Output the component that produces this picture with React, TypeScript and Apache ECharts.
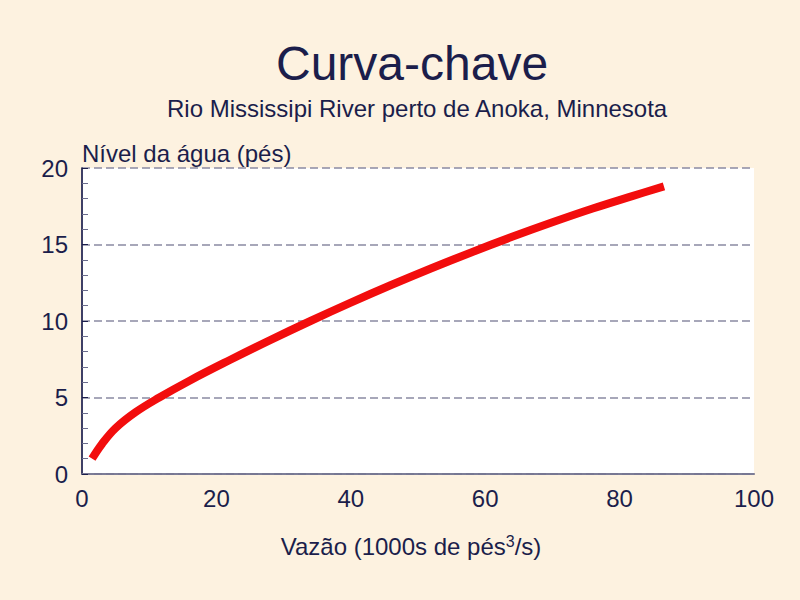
import React, { useEffect, useRef } from "react";
import * as echarts from "echarts";

const discharge = [1.5, 3, 5, 8, 11.5, 16, 22, 28, 34, 40, 46, 52, 58, 64, 70, 76, 82, 86.6];
const stage = [1.0, 1.98, 3.0, 4.05, 5.0, 6.1, 7.45, 8.75, 10.0, 11.2, 12.35, 13.45, 14.5, 15.5, 16.45, 17.35, 18.18, 18.8];

const titleText = "Curva-chave";
const subtitleText = "Rio Mississipi River perto de Anoka, Minnesota";
const yAxisName = "Nível da água (pés)";

const dark = "#1b1e4b";
const gray = "#8a8ba3";
const font = "Liberation Sans, Arial, sans-serif";

export default function App() {
  const ref = useRef<HTMLDivElement>(null);
  useEffect(() => {
    if (!ref.current) return;
    const chart = echarts.init(ref.current, undefined, { renderer: "svg" });
    const data = discharge.map((q, i) => [q, stage[i]]);
    chart.setOption({
      animation: false,
      backgroundColor: "#fdf2e0",
      textStyle: { fontFamily: font },
      title: [
        {
          text: titleText,
          left: 271,
          top: 34,
          textStyle: { fontSize: 48, fontWeight: "normal", color: dark, fontFamily: font },
        },
        {
          text: subtitleText,
          left: 162,
          top: 91,
          textStyle: { fontSize: 24, fontWeight: "normal", color: dark, fontFamily: font },
        },
      ],
      grid: {
        left: 82,
        right: 46,
        top: 168,
        bottom: 126,
        show: true,
        backgroundColor: "#ffffff",
        borderWidth: 0,
      },
      xAxis: [
        {
          type: "value",
          min: 0,
          max: 100,
          interval: 20,
          position: "bottom",
          axisLine: { show: true, lineStyle: { color: dark, width: 1.5 } },
          axisTick: { show: false },
          splitLine: { show: false },
          axisLabel: { color: dark, fontSize: 24, margin: 12, fontFamily: font },
          name: "{a|Vazão (1000s de pés}{s|3}{a|/s)}",
          nameLocation: "middle",
          nameGap: 59,
          nameTextStyle: {
            padding: [0, 14, 0, 0],
            rich: {
              a: { fontSize: 24, color: dark, fontFamily: font },
              s: { fontSize: 16, color: dark, fontFamily: font, padding: [0, 0, 11, 0] },
            },
          },
        },
        {
          type: "value",
          min: 0,
          max: 100,
          position: "top",
          axisLine: { show: true, lineStyle: { color: gray, width: 1.5 } },
          axisTick: { show: false },
          axisLabel: { show: false },
          splitLine: { show: false },
        },
      ],
      yAxis: [
        {
          type: "value",
          min: 0,
          max: 20,
          interval: 5,
          position: "left",
          axisLine: { show: true, lineStyle: { color: gray, width: 1.5 } },
          axisTick: { show: true, inside: true, length: 6, lineStyle: { color: dark } },
          minorTick: { show: true, splitNumber: 5, length: 6, lineStyle: { color: "#6a6c8c" } },
          axisLabel: { color: dark, fontSize: 24, margin: 14, fontFamily: font },
          splitLine: { show: true, lineStyle: { color: gray, type: [8, 4], width: 1.5 } },
          name: yAxisName,
          nameLocation: "end",
          nameGap: 3,
          nameTextStyle: { color: dark, fontSize: 24, align: "left", verticalAlign: "bottom", fontFamily: font },
        },
        {
          type: "value",
          min: 0,
          max: 20,
          position: "right",
          axisLine: { show: true, lineStyle: { color: dark, width: 1.5 } },
          axisTick: { show: false },
          axisLabel: { show: false },
          splitLine: { show: false },
        },
      ],
      series: [
        {
          type: "line",
          data,
          smooth: 0.4,
          symbol: "none",
          lineStyle: { color: "#f20d0d", width: 8, cap: "butt" },
        },
      ],
    });
    return () => chart.dispose();
  }, []);
  return <div ref={ref} style={{ width: 800, height: 600, position: "absolute", left: 0, top: 0 }} />;
}
